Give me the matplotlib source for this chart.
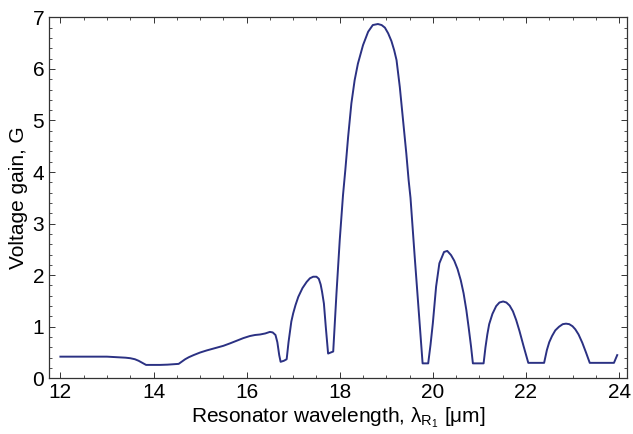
import matplotlib.pyplot as plt
from matplotlib.ticker import MultipleLocator

plt.rcParams['font.family'] = ['Liberation Sans', 'DejaVu Sans']
plt.rcParams['mathtext.fontset'] = 'custom'
plt.rcParams['mathtext.rm'] = 'Liberation Sans'
plt.rcParams['mathtext.it'] = 'Liberation Sans:italic'

# resonator wavelength (um) and voltage gain
wavelength = [12.00, 12.50, 13.00, 13.21, 13.40, 13.50, 13.60, 13.68, 13.76, 13.84,
              14.00, 14.14, 14.30, 14.54, 14.62, 14.68, 14.76, 14.86, 15.00, 15.14,
              15.30, 15.50, 15.65, 15.79, 15.93, 16.07, 16.18, 16.29, 16.40, 16.50,
              16.56, 16.62, 16.66, 16.70, 16.73, 16.80, 16.86, 16.90, 16.96, 17.00,
              17.05, 17.11, 17.20, 17.29, 17.36, 17.43, 17.50, 17.55, 17.59, 17.62,
              17.66, 17.70, 17.75, 17.86, 17.93, 18.00, 18.07, 18.12, 18.18, 18.25,
              18.32, 18.39, 18.50, 18.61, 18.71, 18.82, 18.90, 18.97, 19.04, 19.11,
              19.17, 19.22, 19.29, 19.36, 19.43, 19.48, 19.52, 19.61, 19.69, 19.78,
              19.90, 19.95, 20.00, 20.07, 20.14, 20.24, 20.31, 20.39, 20.46, 20.53,
              20.60, 20.66, 20.72, 20.77, 20.82, 20.86, 21.09, 21.13, 21.17, 21.21,
              21.28, 21.36, 21.43, 21.51, 21.58, 21.65, 21.72, 21.79, 21.86, 21.95,
              22.05, 22.39, 22.45, 22.50, 22.56, 22.63, 22.71, 22.79, 22.86, 22.93,
              23.00, 23.06, 23.13, 23.21, 23.29, 23.37, 23.89, 23.96]
gain = [0.42, 0.42, 0.42, 0.41, 0.40, 0.39, 0.37, 0.34, 0.30, 0.26,
        0.26, 0.26, 0.265, 0.28, 0.33, 0.37, 0.41, 0.45, 0.50, 0.54,
        0.58, 0.63, 0.68, 0.73, 0.78, 0.82, 0.84, 0.85, 0.87, 0.90,
        0.89, 0.84, 0.70, 0.45, 0.32, 0.34, 0.37, 0.70, 1.10, 1.26,
        1.42, 1.58, 1.75, 1.87, 1.94, 1.97, 1.97, 1.93, 1.82, 1.68,
        1.45, 1.00, 0.48, 0.52, 1.65, 2.68, 3.55, 4.04, 4.68, 5.33,
        5.78, 6.10, 6.46, 6.72, 6.85, 6.87, 6.85, 6.80, 6.69, 6.54,
        6.36, 6.17, 5.65, 5.01, 4.36, 3.84, 3.50, 2.36, 1.39, 0.29,
        0.29, 0.65, 1.07, 1.78, 2.23, 2.45, 2.47, 2.39, 2.28, 2.12,
        1.90, 1.65, 1.32, 0.98, 0.62, 0.29, 0.29, 0.60, 0.85, 1.05,
        1.25, 1.40, 1.47, 1.49, 1.47, 1.41, 1.30, 1.13, 0.92, 0.62,
        0.30, 0.30, 0.55, 0.70, 0.82, 0.93, 1.00, 1.05, 1.06, 1.05,
        1.01, 0.95, 0.85, 0.69, 0.50, 0.30, 0.30, 0.45]

fig = plt.figure(figsize=(6.33, 4.34), dpi=100)
ax = fig.add_axes([0.0774, 0.1283, 0.9131, 0.8318])

ax.plot(wavelength, gain, color='#2b3183', lw=1.4)

ax.set_xlim(11.755, 24.17)
ax.set_ylim(0, 7)
ax.xaxis.set_major_locator(MultipleLocator(2))
ax.xaxis.set_minor_locator(MultipleLocator(0.5))
ax.yaxis.set_major_locator(MultipleLocator(1))
ax.yaxis.set_minor_locator(MultipleLocator(0.2))
ax.tick_params(which='both', direction='in', top=True, right=True,
               labelsize=15, colors='#333333', labelcolor='black')
ax.tick_params(which='major', length=4, width=0.7, pad=3.5)
ax.tick_params(which='minor', length=2.2, width=0.6)
for s in ax.spines.values():
    s.set_linewidth(0.9)
    s.set_color('#333333')

ax.set_xlabel('Resonator wavelength, λ$_{\\mathrm{R}_1}$ [μm]', fontsize=15, labelpad=2)
ax.set_ylabel('Voltage gain, G', fontsize=15, labelpad=3)

fig.savefig('out.png', dpi=100)
